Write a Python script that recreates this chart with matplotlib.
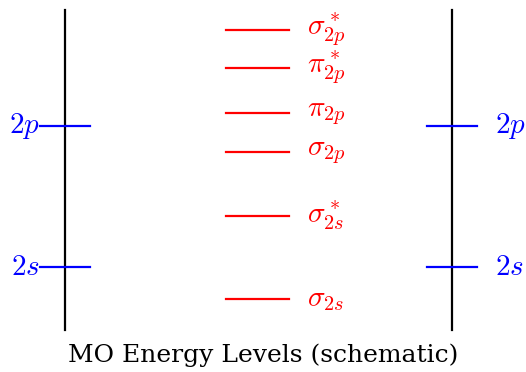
import matplotlib
matplotlib.use("Agg")
import matplotlib.pyplot as plt

plt.rcParams['mathtext.fontset'] = 'cm'

# molecular orbital levels (arbitrary energy units, bottom to top)
mo_labels = [r'$\sigma_{2s}$', r'$\sigma_{2s}^*$', r'$\sigma_{2p}$',
             r'$\pi_{2p}$', r'$\pi_{2p}^*$', r'$\sigma_{2p}^*$']
mo_energy = [0.97, 3.56, 5.56, 6.78, 8.19, 9.38]

# atomic orbital levels of each atom
ao_labels = [r'$2s$', r'$2p$']
ao_energy = [1.97, 6.38]

title = "MO Energy Levels (schematic)"

# layout (pixel-like x coordinates)
left_x, right_x = 65, 452
tick_half = 25
mo_x0, mo_x1 = 226, 289
mo_label_x = 307

fig = plt.figure(figsize=(5.26, 3.72), dpi=100)
ax = fig.add_axes([0, 0, 1, 1])
ax.set_xlim(0, 526)
ax.set_ylim(-1.3125, 10.3125)
ax.axis("off")

# atom axes
for x in (left_x, right_x):
    ax.plot([x, x], [0, 10], color="black", lw=1.6)

# atomic levels
for lab, e in zip(ao_labels, ao_energy):
    ax.plot([left_x - tick_half, left_x + tick_half], [e, e], color="blue", lw=1.6)
    ax.plot([right_x - tick_half, right_x + tick_half], [e, e], color="blue", lw=1.6)
    ax.text(left_x - tick_half, e, lab, color="blue", fontsize=21,
            ha="right", va="center")
    ax.text(right_x + tick_half + 18, e, lab, color="blue", fontsize=21,
            ha="left", va="center")

# molecular levels
for lab, e in zip(mo_labels, mo_energy):
    ax.plot([mo_x0, mo_x1], [e, e], color="red", lw=1.6)
    ax.text(mo_label_x, e, lab, color="red", fontsize=21,
            ha="left", va="center")

ax.text(263, -0.8, title, fontsize=18, family="DejaVu Serif",
        ha="center", va="center")

fig.savefig("out.png", dpi=100)
